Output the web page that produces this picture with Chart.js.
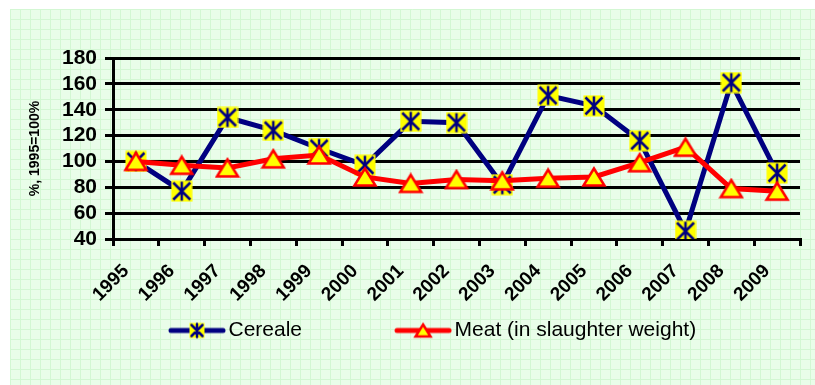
<!DOCTYPE html>
<html>
<head>
<meta charset="utf-8">
<script src="https://cdn.jsdelivr.net/npm/chart.js@4.4.1/dist/chart.umd.min.js"></script>
<style>
  html, body { margin: 0; padding: 0; background: #fff; }
  #wrap { width: 815px; height: 385px; }
</style>
</head>
<body>
<div id="wrap"><canvas id="chart" width="815" height="385"></canvas></div>
<script>
const years = ["1995", "1996", "1997", "1998", "1999", "2000", "2001", "2002", "2003", "2004", "2005", "2006", "2007", "2008", "2009"];
const cereale = [100, 77, 134, 124, 110, 97, 131, 130, 82, 151, 143, 116, 46, 161, 91];
const meat = [100, 97, 95, 102, 105, 88, 83, 86, 85, 87, 88, 99, 111, 79, 77];
const seriesNames = ["Cereale", "Meat (in slaughter weight)"];
const yTitle = "%, 1995=100%";

const NAVY = "#000080";
const RED = "#ff0000";
const YELLOW = "#ffff00";
const FONT = "'Liberation Sans', Arial, sans-serif";

// legend sample sizes
const LEG_BOX = 132;
const LEG_IMG = LEG_BOX + 16;

// marker drawing helpers (canvas images used as point styles)
const drawStar = (c, cx, cy, s) => {
  c.fillStyle = YELLOW;
  c.fillRect(cx - s / 2, cy - s / 2, s, s);
  c.strokeStyle = NAVY;
  c.lineWidth = 2.5;
  const d = s / 2 - 2;
  c.beginPath();
  c.moveTo(cx - d, cy - d); c.lineTo(cx + d, cy + d);
  c.moveTo(cx + d, cy - d); c.lineTo(cx - d, cy + d);
  c.moveTo(cx, cy - s / 2 + 1); c.lineTo(cx, cy + s / 2 - 1);
  c.stroke();
};

const drawTri = (c, cx, cy, w, h) => {
  c.fillStyle = YELLOW;
  c.strokeStyle = RED;
  c.lineWidth = 2.5;
  c.beginPath();
  c.moveTo(cx, cy - h / 2);
  c.lineTo(cx + w / 2, cy + h / 2);
  c.lineTo(cx - w / 2, cy + h / 2);
  c.closePath();
  c.fill();
  c.stroke();
};

const makeCanvas = (w, h, fn) => {
  const cv = document.createElement("canvas");
  cv.width = w;
  cv.height = h;
  fn(cv.getContext("2d"));
  return cv;
};

const starImg = makeCanvas(22, 22, (c) => drawStar(c, 11, 11, 21));
const triImg = makeCanvas(26, 22, (c) => drawTri(c, 13, 11, 21, 17));

// line sample sits at the right end of a wide, mostly empty image
const legendImg = (color, marker) =>
  makeCanvas(LEG_IMG, 22, (c) => {
    const x1 = LEG_IMG - 3;
    const x0 = LEG_IMG - 55;
    c.strokeStyle = color;
    c.lineWidth = 5;
    c.lineCap = "round";
    c.beginPath();
    c.moveTo(x0, 11);
    c.lineTo(x1, 11);
    c.stroke();
    const mx = (x0 + x1) / 2;
    if (marker === "star") drawStar(c, mx, 11, 15);
    else drawTri(c, mx, 11, 15, 12);
  });

const cerealeLegend = legendImg(NAVY, "star");
const meatLegend = legendImg(RED, "tri");

// light green squared paper behind everything
const paperBackground = {
  id: "paperBackground",
  beforeDraw: (chart) => {
    const c = chart.ctx;
    const { width, height } = chart;
    c.save();
    c.fillStyle = "#ffffff";
    c.fillRect(0, 0, width, height);
    c.fillStyle = "#e9fde9";
    c.fillRect(10, 9, width - 10, height - 9);
    c.strokeStyle = "#d3f7d3";
    c.lineWidth = 1;
    c.beginPath();
    for (let x = 10.5; x < width; x += 10) {
      c.moveTo(x, 9);
      c.lineTo(x, height);
    }
    for (let y = 9.5; y < height; y += 10) {
      c.moveTo(10, y);
      c.lineTo(width, y);
    }
    c.stroke();
    c.restore();
  },
};

// move the legend row to where the original has it
const legendShift = {
  id: "legendShift",
  afterLayout: (chart) => {
    if (chart.legend) {
      chart.legend.left += 76;
      chart.legend.right += 76;
    }
  },
};

new Chart(document.getElementById("chart"), {
  type: "line",
  data: {
    labels: years,
    datasets: [
      {
        label: seriesNames[0],
        data: cereale,
        borderColor: NAVY,
        backgroundColor: YELLOW,
        borderWidth: 5,
        pointStyle: starImg,
        pointRadius: 10,
        tension: 0,
        order: 1,
      },
      {
        label: seriesNames[1],
        data: meat,
        borderColor: RED,
        backgroundColor: YELLOW,
        borderWidth: 5,
        pointStyle: triImg,
        pointRadius: 10,
        tension: 0,
        order: 0,
      },
    ],
  },
  options: {
    responsive: false,
    animation: false,
    devicePixelRatio: 1,
    layout: { padding: { top: 58, right: 4, left: 0, bottom: 34 } },
    plugins: {
      tooltip: { enabled: false },
      legend: {
        position: "bottom",
        align: "start",
        labels: {
          usePointStyle: true,
          pointStyleWidth: LEG_BOX,
          boxHeight: 21,
          padding: 10,
          color: "#000",
          font: { family: FONT, size: 21 },
          generateLabels: () => [
            { text: seriesNames[0], pointStyle: cerealeLegend, fillStyle: YELLOW, strokeStyle: NAVY, lineWidth: 0, hidden: false, datasetIndex: 0 },
            { text: seriesNames[1], pointStyle: meatLegend, fillStyle: YELLOW, strokeStyle: RED, lineWidth: 0, hidden: false, datasetIndex: 1 },
          ],
        },
      },
    },
    scales: {
      x: {
        offset: true,
        grid: {
          offset: true,
          drawOnChartArea: false,
          color: "#000",
          lineWidth: 3,
          tickLength: 7,
        },
        border: { color: "#000", width: 3 },
        ticks: {
          minRotation: 45,
          maxRotation: 45,
          autoSkip: false,
          color: "#000",
          font: { family: FONT, size: 19, weight: "bold" },
          labelOffset: -10,
          padding: 14,
        },
        afterFit: (s) => {
          s.height = 71;
        },
      },
      y: {
        min: 40,
        max: 180,
        ticks: {
          stepSize: 20,
          autoSkip: false,
          color: "#000",
          padding: 8,
          font: { family: FONT, size: 21, weight: "bold" },
        },
        grid: { color: "#000", lineWidth: 3, tickLength: 8 },
        border: { color: "#000", width: 3 },
        title: {
          display: true,
          text: yTitle,
          color: "#000",
          padding: { top: 27, bottom: 0 },
          font: { family: FONT, size: 14, weight: "bold" },
        },
        afterFit: (s) => {
          s.width = 113;
        },
      },
    },
  },
  plugins: [paperBackground, legendShift],
});
</script>
</body>
</html>
